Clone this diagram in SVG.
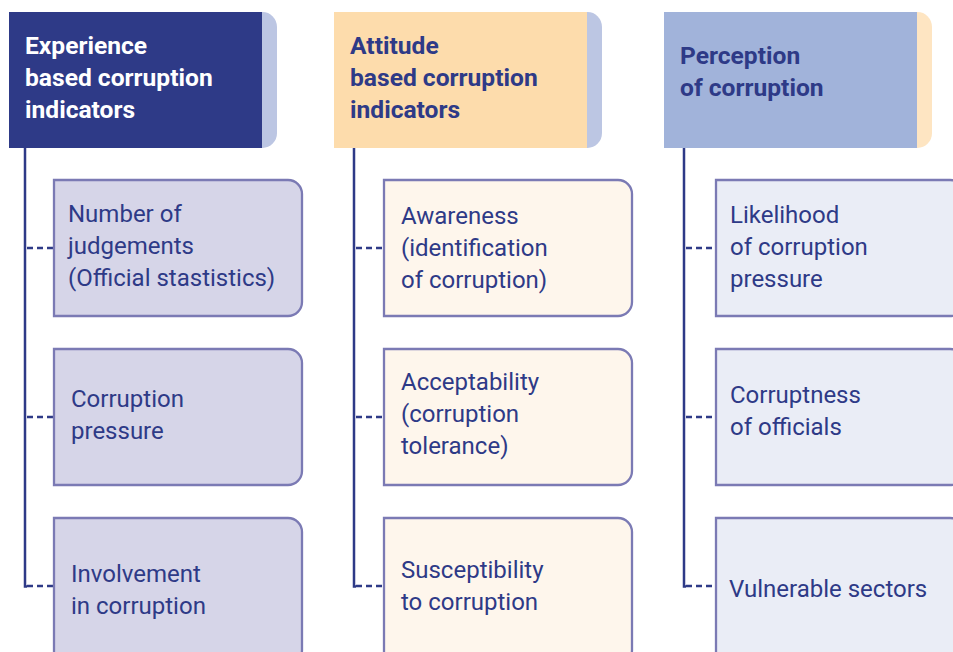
<svg xmlns="http://www.w3.org/2000/svg" width="953" height="652" viewBox="0 0 953 652">
  <defs>
    <style>
      .hd { font-family: Roboto, "Liberation Sans", sans-serif; font-weight: bold; font-size: 24.6px; }
      .hd-light { fill: #ffffff; }
      .hd-dark { fill: #2e3a87; }
      .lbl { font-family: Roboto, "Liberation Sans", sans-serif; font-size: 24px; fill: #2e3a87; }
      .box { stroke: #7b7ab4; stroke-width: 2.3; }
      .b1 { fill: #d6d5e8; }
      .b2 { fill: #fef6ec; }
      .b3 { fill: #eaedf6; }
      .spine { stroke: #2e3a87; stroke-width: 2.5; fill: none; }
      .dash { stroke: #2e3a87; stroke-width: 2.5; stroke-dasharray: 6 4; fill: none; }
    </style>
  </defs>
  <rect width="953" height="652" fill="#ffffff"/>

  <!-- column headers -->
  <g id="header-experience">
    <rect x="248" y="12" width="29" height="136" rx="15" fill="#bcc6e3"/>
    <rect x="9" y="12" width="253" height="136" fill="#2e3a87"/>
    <text class="hd hd-light" x="25" y="54">Experience</text>
    <text class="hd hd-light" x="25" y="86">based corruption</text>
    <text class="hd hd-light" x="25" y="118">indicators</text>
  </g>
  <g id="header-attitude">
    <rect x="573" y="12" width="29" height="136" rx="15" fill="#bcc6e3"/>
    <rect x="334" y="12" width="253" height="136" fill="#fddcac"/>
    <text class="hd hd-dark" x="350" y="54">Attitude</text>
    <text class="hd hd-dark" x="350" y="86">based corruption</text>
    <text class="hd hd-dark" x="350" y="118">indicators</text>
  </g>
  <g id="header-perception">
    <rect x="903" y="12" width="29" height="136" rx="15" fill="#fee5c2"/>
    <rect x="664" y="12" width="253" height="136" fill="#a1b3da"/>
    <text class="hd hd-dark" x="680" y="64">Perception</text>
    <text class="hd hd-dark" x="680" y="96">of corruption</text>
  </g>

  <!-- connectors -->
  <g id="connectors">
    <path class="spine" d="M25,148 V586.5 H27"/>
    <path class="dash" d="M27,248 H54 M27,417 H54 M27,586 H54"/>
    <path class="spine" d="M354,148 V586.5 H356"/>
    <path class="dash" d="M356,248 H384 M356,417 H384 M356,586 H384"/>
    <path class="spine" d="M684,148 V586.5 H686"/>
    <path class="dash" d="M686,248 H716 M686,417 H716 M686,586 H716"/>
  </g>

  <!-- column 1 -->
  <g id="node-judgements">
    <path class="box b1" d="M54,180 H288 A14,14 0 0 1 302,194 V302 A14,14 0 0 1 288,316 H54 Z"/>
    <text class="lbl" x="68" y="222">Number of</text>
    <text class="lbl" x="68" y="254">judgements</text>
    <text class="lbl" x="68" y="286">(Official stastistics)</text>
  </g>
  <g id="node-pressure">
    <path class="box b1" d="M54,349 H288 A14,14 0 0 1 302,363 V471 A14,14 0 0 1 288,485 H54 Z"/>
    <text class="lbl" x="71" y="407">Corruption</text>
    <text class="lbl" x="71" y="439">pressure</text>
  </g>
  <g id="node-involvement">
    <path class="box b1" d="M54,518 H288 A14,14 0 0 1 302,532 V650 A14,14 0 0 1 288,664 H54 Z"/>
    <text class="lbl" x="71" y="582">Involvement</text>
    <text class="lbl" x="71" y="614">in corruption</text>
  </g>

  <!-- column 2 -->
  <g id="node-awareness">
    <path class="box b2" d="M384,180 H618 A14,14 0 0 1 632,194 V302 A14,14 0 0 1 618,316 H384 Z"/>
    <text class="lbl" x="401" y="224">Awareness</text>
    <text class="lbl" x="401" y="256">(identification</text>
    <text class="lbl" x="401" y="288">of corruption)</text>
  </g>
  <g id="node-acceptability">
    <path class="box b2" d="M384,349 H618 A14,14 0 0 1 632,363 V471 A14,14 0 0 1 618,485 H384 Z"/>
    <text class="lbl" x="401" y="390">Acceptability</text>
    <text class="lbl" x="401" y="422">(corruption</text>
    <text class="lbl" x="401" y="454">tolerance)</text>
  </g>
  <g id="node-susceptibility">
    <path class="box b2" d="M384,518 H618 A14,14 0 0 1 632,532 V650 A14,14 0 0 1 618,664 H384 Z"/>
    <text class="lbl" x="401" y="578">Susceptibility</text>
    <text class="lbl" x="401" y="610">to corruption</text>
  </g>

  <!-- column 3 -->
  <g id="node-likelihood">
    <path class="box b3" d="M716,180 H950 A14,14 0 0 1 964,194 V302 A14,14 0 0 1 950,316 H716 Z"/>
    <text class="lbl" x="730" y="223">Likelihood</text>
    <text class="lbl" x="730" y="255">of corruption</text>
    <text class="lbl" x="730" y="287">pressure</text>
  </g>
  <g id="node-corruptness">
    <path class="box b3" d="M716,349 H950 A14,14 0 0 1 964,363 V471 A14,14 0 0 1 950,485 H716 Z"/>
    <text class="lbl" x="730" y="403">Corruptness</text>
    <text class="lbl" x="730" y="435">of officials</text>
  </g>
  <g id="node-vulnerable">
    <path class="box b3" d="M716,518 H950 A14,14 0 0 1 964,532 V650 A14,14 0 0 1 950,664 H716 Z"/>
    <text class="lbl" x="729" y="597">Vulnerable sectors</text>
  </g>
</svg>
